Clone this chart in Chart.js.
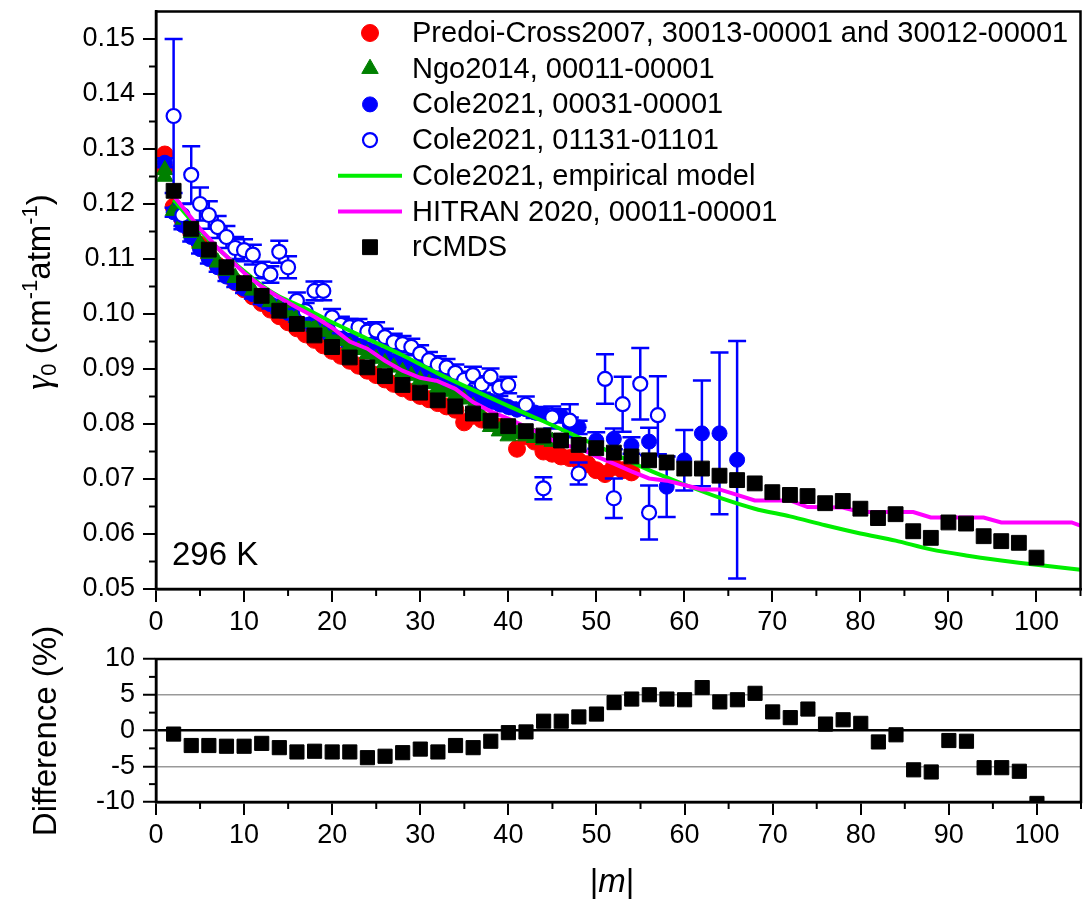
<!DOCTYPE html>
<html><head><meta charset="utf-8">
<script src="https://cdn.jsdelivr.net/npm/chart.js@4.4.1/dist/chart.umd.min.js"></script>
<style>
html,body{margin:0;padding:0;background:#fff;}
#wrap{position:relative;width:1092px;height:918px;background:#fff;}
.box{position:absolute;left:0;width:1092px;}
</style></head><body>
<div id="wrap">
<div class="box" style="top:0;height:640px"><canvas id="c1" width="1092" height="640"></canvas></div>
<div class="box" style="top:600px;height:318px"><canvas id="c2" width="1092" height="318"></canvas></div>
</div>
<script>
// ---------------- DATA ----------------
const xTicks = [0,10,20,30,40,50,60,70,80,90,100];
const yTicksTop = [0.05,0.06,0.07,0.08,0.09,0.10,0.11,0.12,0.13,0.14,0.15];
const yTicksDiff = [-10,-5,0,5,10];

const predoiM = [1,1,2,3,4,5,6,7,8,9,10,11,12,13,14,15,16,17,18,19,20,21,22,23,24,25,26,27,28,29,30,31,32,33,34,35,36,37,38,39,40,41,42,43,44,45,46,47,48,49,50,51,52,53,54];
const predoiG = [0.1290,0.1265,0.1195,0.1172,0.1148,0.1126,0.1106,0.1088,0.1072,0.1058,0.1045,0.1032,0.1020,0.1008,0.0996,0.0985,0.0974,0.0963,0.0953,0.0943,0.0933,0.0924,0.0915,0.0906,0.0897,0.0889,0.0881,0.0873,0.0865,0.0858,0.0851,0.0845,0.0838,0.0832,0.0826,0.0803,0.0815,0.0808,0.0802,0.0795,0.0788,0.0755,0.0778,0.0768,0.0750,0.0746,0.0741,0.0738,0.0733,0.0727,0.0716,0.0709,0.0722,0.0716,0.0712];

const ngoM = [1,1,2,3,4,5,6,7,8,9,10,11,12,13,14,15,16,17,18,19,20,21,22,23,24,25,26,27,28,29,30,31,32,33,34,35,36,37,38,39,40,41,42,43,44,45];
const ngoG = [0.1262,0.1250,0.1188,0.1168,0.1148,0.1128,0.1110,0.1094,0.1079,0.1066,0.1054,0.1043,0.1032,0.1022,0.1012,0.1003,0.0994,0.0985,0.0976,0.0968,0.0959,0.0951,0.0943,0.0935,0.0927,0.0919,0.0911,0.0903,0.0895,0.0888,0.0880,0.0873,0.0866,0.0859,0.0852,0.0845,0.0832,0.0815,0.0795,0.0787,0.0778,0.0782,0.0778,0.0775,0.0771,0.0768];

const cole1M = [1,2,3,4,5,6,7,8,9,10,11,12,13,14,15,16,17,18,19,20,21,22,23,24,25,26,27,28,29,30,31,32,33,34,35,36,37,38,39,40,41,42,43,44,46,47,48,50,52,54,56,58,60,62,64,66];
const cole1G = [0.1275,0.1185,0.1162,0.1140,0.1118,0.1100,0.1085,0.1068,0.1057,0.1046,0.1036,0.1026,0.1018,0.1010,0.1002,0.0994,0.0987,0.0978,0.0970,0.0963,0.0956,0.0949,0.0942,0.0936,0.0929,0.0922,0.0914,0.0907,0.0901,0.0894,0.0887,0.0880,0.0874,0.0867,0.0861,0.0854,0.0848,0.0842,0.0836,0.0831,0.0826,0.0827,0.0821,0.0818,0.0815,0.0800,0.0794,0.0770,0.0773,0.0761,0.0768,0.0686,0.0734,0.0783,0.0783,0.0735];
const cole1Err = [0.0008,0.0008,0.0008,0.0008,0.0008,0.0008,0.0008,0.0008,0.0008,0.0008,0.0008,0.0008,0.0008,0.0008,0.0008,0.0008,0.0008,0.0008,0.0008,0.0008,0.0008,0.0008,0.0008,0.0008,0.0008,0.0008,0.0008,0.0008,0.0008,0.0008,0.0008,0.0008,0.0008,0.0008,0.0008,0.0008,0.0008,0.0008,0.0008,0.0008,0.0008,0.0010,0.0010,0.0010,0.0012,0.0012,0.0012,0.0015,0.0019,0.0015,0.0025,0.0055,0.0055,0.0096,0.0147,0.0216];

const cole2M = [2,3,4,5,6,7,8,9,10,11,12,13,14,15,16,17,18,19,20,21,22,23,24,25,26,27,28,29,30,31,32,33,34,35,36,37,38,39,40,42,44,45,47,48,51,52,53,55,56,57];
const cole2G = [0.1360,0.1180,0.1253,0.1200,0.1180,0.1158,0.1140,0.1120,0.1116,0.1108,0.1080,0.1072,0.1113,0.1085,0.1024,0.1005,0.1042,0.1042,0.0994,0.0980,0.0976,0.0976,0.0968,0.0970,0.0958,0.0949,0.0945,0.0940,0.0928,0.0916,0.0908,0.0903,0.0893,0.0880,0.0889,0.0872,0.0886,0.0866,0.0871,0.0835,0.0683,0.0812,0.0806,0.0710,0.0882,0.0665,0.0836,0.0873,0.0639,0.0816];
const cole2Err = [0.0140,0.0020,0.0052,0.0030,0.0025,0.0020,0.0020,0.0020,0.0020,0.0018,0.0015,0.0015,0.0020,0.0020,0.0015,0.0015,0.0017,0.0017,0.0015,0.0015,0.0015,0.0015,0.0015,0.0015,0.0015,0.0015,0.0015,0.0015,0.0015,0.0015,0.0015,0.0015,0.0015,0.0015,0.0015,0.0015,0.0015,0.0015,0.0015,0.0015,0.0020,0.0020,0.0030,0.0020,0.0045,0.0036,0.0050,0.0065,0.0049,0.0071];

const modelM = [2,4,6,8,10,12,14,17,20,24,28,32,36,40,44,48,52,56,60,64,68,72,76,80,84,88,92,96,100,105];
const modelG = [0.1208,0.1170,0.1135,0.1105,0.1078,0.1052,0.1032,0.1010,0.0985,0.0955,0.0925,0.0892,0.0862,0.0833,0.0805,0.0776,0.0746,0.0716,0.0690,0.0666,0.0646,0.0632,0.0616,0.0601,0.0588,0.0572,0.0561,0.0552,0.0544,0.0535];

const hitranM = [2,3,4,5,6,7,8,9,10,11,12,13,14,16,18,20,22,24,26,28,30,32,34,36,38,40,42,44,46,48,50,52,54,56,58,60,62,64,66,68,72,74,78,80,86,88,94,96,104,105];
const hitranG = [0.1215,0.1195,0.1175,0.1155,0.1138,0.1120,0.1105,0.1090,0.1075,0.1062,0.1050,0.1040,0.1030,0.1012,0.0995,0.0975,0.0950,0.0937,0.0915,0.0897,0.0884,0.0878,0.0864,0.0840,0.0823,0.0810,0.0795,0.0780,0.0762,0.0757,0.0741,0.0728,0.0714,0.0701,0.0697,0.0689,0.0681,0.0681,0.0671,0.0661,0.0661,0.0649,0.0648,0.0640,0.0640,0.0630,0.0630,0.0621,0.0621,0.0615];

const rcmdsM = [2,4,6,8,10,12,14,16,18,20,22,24,26,28,30,32,34,36,38,40,42,44,46,48,50,52,54,56,58,60,62,64,66,68,70,72,74,76,78,80,82,84,86,88,90,92,94,96,98,100];
const rcmdsG = [0.1224,0.1155,0.1117,0.1085,0.1056,0.1033,0.1006,0.0982,0.0961,0.0940,0.0921,0.0903,0.0887,0.0871,0.0857,0.0843,0.0832,0.0819,0.0806,0.0796,0.0787,0.0779,0.0770,0.0762,0.0756,0.0748,0.0741,0.0734,0.0730,0.0719,0.0719,0.0706,0.0698,0.0692,0.0676,0.0671,0.0669,0.0656,0.0660,0.0646,0.0629,0.0636,0.0605,0.0593,0.0621,0.0619,0.0596,0.0587,0.0584,0.0557];
const diffPct = [-0.5,-2.1,-2.1,-2.2,-2.2,-1.8,-2.4,-3.0,-2.9,-3.0,-3.0,-3.8,-3.6,-3.1,-2.6,-3.0,-2.1,-2.4,-1.5,-0.3,-0.2,1.3,1.3,1.9,2.3,3.9,4.4,5.0,4.4,4.3,6.0,4.0,4.3,5.2,2.6,1.8,3.0,0.9,1.5,1.0,-1.6,-0.6,-5.5,-5.8,-1.4,-1.5,-5.2,-5.2,-5.7,-10.2];

const legendLabels = ['Predoi-Cross2007, 30013-00001 and 30012-00001','Ngo2014, 00011-00001','Cole2021, 00031-00001','Cole2021, 01131-01101','Cole2021, empirical model','HITRAN 2020, 00011-00001','rCMDS'];

// ---------------- HELPERS ----------------
const FONT = '"Liberation Sans", Arial, Helvetica, sans-serif';
const pts = (xs, ys) => xs.map((x, i) => ({x: x, y: ys[i]}));

const errorBars = {
  id: 'errorBars',
  beforeDatasetDraw(chart, args) {
    const ds = chart.data.datasets[args.index];
    if (!ds.errors) return;
    const {ctx, chartArea: a, scales: {x, y}} = chart;
    ctx.save();
    ctx.beginPath(); ctx.rect(a.left, a.top, a.right - a.left, a.bottom - a.top); ctx.clip();
    ctx.strokeStyle = ds.borderColor; ctx.lineWidth = 2.5;
    const cap = 9;
    ds.data.forEach((p, i) => {
      const e = ds.errors[i]; if (!e) return;
      const px = x.getPixelForValue(p.x), y1 = y.getPixelForValue(p.y + e), y2 = y.getPixelForValue(p.y - e);
      ctx.beginPath();
      ctx.moveTo(px, y1); ctx.lineTo(px, y2);
      ctx.moveTo(px - cap, y1); ctx.lineTo(px + cap, y1);
      ctx.moveTo(px - cap, y2); ctx.lineTo(px + cap, y2);
      ctx.stroke();
    });
    ctx.restore();
  }
};

const frameAndMinor = {
  id: 'frameAndMinor',
  afterDraw(chart, args, opts) {
    const {ctx, chartArea: a, scales: {x, y}} = chart;
    ctx.save();
    ctx.strokeStyle = '#000'; ctx.lineWidth = 2;
    for (let v = opts.xMinor; v <= x.max + 1e-9; v += opts.xMinor * 2) {
      const px = x.getPixelForValue(v);
      ctx.beginPath(); ctx.moveTo(px, a.bottom); ctx.lineTo(px, a.bottom + 7); ctx.stroke();
    }
    for (let v = y.min + opts.yMinor; v < y.max - 1e-9; v += opts.yMinor * 2) {
      const py = y.getPixelForValue(v);
      ctx.beginPath(); ctx.moveTo(a.left, py); ctx.lineTo(a.left - 7, py); ctx.stroke();
    }
    ctx.lineWidth = 2.5;
    ctx.strokeRect(a.left, a.top, a.right - a.left, a.bottom - a.top);
    ctx.restore();
  }
};

function richRotated(ctx, cx, cy, parts) {
  ctx.save();
  ctx.translate(cx, cy); ctx.rotate(-Math.PI / 2);
  let total = 0;
  parts.forEach(p => { ctx.font = p.font; p.w = ctx.measureText(p.t).width; total += p.w; });
  let xx = -total / 2;
  ctx.textBaseline = 'alphabetic'; ctx.textAlign = 'left'; ctx.fillStyle = '#000';
  parts.forEach(p => { ctx.font = p.font; ctx.fillText(p.t, xx, p.dy || 0); xx += p.w; });
  ctx.restore();
}

const topDecor = {
  id: 'topDecor',
  afterDraw(chart) {
    const ctx = chart.ctx;
    const dsets = chart.data.datasets;
    ctx.save();
    const x0 = 370, tx = 412, ly0 = 33, step = 35.7;
    legendLabels.forEach((lab, i) => {
      const ds = dsets[i];
      const yy = ly0 + i * step;
      if (ds.showLine) {
        ctx.strokeStyle = ds.borderColor; ctx.lineWidth = ds.borderWidth;
        ctx.beginPath(); ctx.moveTo(338, yy); ctx.lineTo(402, yy); ctx.stroke();
      } else {
        ctx.fillStyle = ds.backgroundColor; ctx.strokeStyle = ds.borderColor; ctx.lineWidth = ds.borderWidth;
        Chart.helpers.drawPoint(ctx, {pointStyle: ds.pointStyle, radius: ds.pointRadius, borderWidth: ds.borderWidth, rotation: 0}, x0, yy);
      }
      ctx.fillStyle = '#000'; ctx.font = '29px ' + FONT; ctx.textBaseline = 'middle'; ctx.textAlign = 'left';
      ctx.fillText(lab, tx, yy + 1);
    });
    ctx.font = '33px ' + FONT; ctx.textBaseline = 'alphabetic'; ctx.fillStyle = '#000';
    ctx.fillText('296 K', 172, 565);
    ctx.restore();
    richRotated(ctx, 50, 292, [
      {t: 'γ', font: 'italic 36px "Liberation Serif", "DejaVu Serif", serif'},
      {t: '0', font: '22px ' + FONT, dy: 6},
      {t: ' (cm', font: '33px ' + FONT},
      {t: '-1', font: '22px ' + FONT, dy: -13},
      {t: 'atm', font: '33px ' + FONT},
      {t: '-1', font: '22px ' + FONT, dy: -13},
      {t: ')', font: '33px ' + FONT}
    ]);
  }
};

const bottomDecor = {
  id: 'bottomDecor',
  afterDraw(chart) {
    const ctx = chart.ctx;
    richRotated(ctx, 56, 131, [{t: 'Difference (%)', font: '33px ' + FONT}]);
    ctx.save();
    ctx.fillStyle = '#000'; ctx.textBaseline = 'alphabetic';
    ctx.font = '33px ' + FONT;
    const w1 = ctx.measureText('|').width;
    ctx.font = 'italic 33px ' + FONT;
    const w2 = ctx.measureText('m').width;
    const cx = 612; let xx = cx - (2 * w1 + w2) / 2; const by = 292;
    ctx.font = '33px ' + FONT; ctx.fillText('|', xx, by); xx += w1;
    ctx.font = 'italic 33px ' + FONT; ctx.fillText('m', xx, by); xx += w2;
    ctx.font = '33px ' + FONT; ctx.fillText('|', xx, by);
    ctx.restore();
  }
};

function axisCommon() {
  return {
    border: {display: true, color: '#000', width: 2.5},
    grid: {drawOnChartArea: false, drawTicks: true, tickLength: 13, color: '#000', tickColor: '#000', lineWidth: 2, tickWidth: 2},
    ticks: {color: '#000', font: {family: FONT, size: 27}, padding: 4, maxRotation: 0, autoSkip: false}
  };
}
function fitX(h) { return s => { s.height = h; s.paddingLeft = 0; s.paddingRight = 0; }; }
function fitY(w) { return s => { s.width = w; s.paddingTop = 0; s.paddingBottom = 0; }; }

// ---------------- TOP CHART ----------------
const xTop = axisCommon();
Object.assign(xTop, {type: 'linear', min: 0, max: 105,
  afterBuildTicks: s => { s.ticks = xTicks.map(v => ({value: v})); },
  afterFit: fitX(51)});
xTop.ticks.callback = v => String(v);
const yTop = axisCommon();
Object.assign(yTop, {type: 'linear', min: 0.05, max: 0.155,
  afterBuildTicks: s => { s.ticks = yTicksTop.map(v => ({value: v})); },
  afterFit: fitY(156)});
yTop.ticks.callback = v => v.toFixed(2);
yTop.ticks.padding = 8;

new Chart(document.getElementById('c1'), {
  type: 'scatter',
  data: {datasets: [
    {label: legendLabels[0], data: pts(predoiM, predoiG), pointStyle: 'circle', pointRadius: 8.5, backgroundColor: '#ff0000', borderColor: '#ff0000', borderWidth: 1, order: 6},
    {label: legendLabels[1], data: pts(ngoM, ngoG), pointStyle: 'triangle', pointRadius: 9.5, backgroundColor: '#008000', borderColor: '#008000', borderWidth: 1, order: 4},
    {label: legendLabels[2], data: pts(cole1M, cole1G), errors: cole1Err, pointStyle: 'circle', pointRadius: 7.5, backgroundColor: '#0000ff', borderColor: '#0000ff', borderWidth: 1, order: 5},
    {label: legendLabels[3], data: pts(cole2M, cole2G), errors: cole2Err, pointStyle: 'circle', pointRadius: 7, backgroundColor: '#ffffff', borderColor: '#0000ff', borderWidth: 2.2, order: 3},
    {label: legendLabels[4], data: pts(modelM, modelG), showLine: true, pointRadius: 0, borderColor: '#00ee00', backgroundColor: '#00ee00', borderWidth: 4, tension: 0.3, order: 2},
    {label: legendLabels[5], data: pts(hitranM, hitranG), showLine: true, pointRadius: 0, borderColor: '#ff00ff', backgroundColor: '#ff00ff', borderWidth: 4, order: 1},
    {label: legendLabels[6], data: pts(rcmdsM, rcmdsG), pointStyle: 'rect', pointRadius: 10.5, backgroundColor: '#000000', borderColor: '#000000', borderWidth: 1, order: 0}
  ]},
  options: {
    responsive: false, animation: false,
    layout: {padding: {top: 4, right: 5, left: 0, bottom: 0}},
    plugins: {legend: {display: false}, tooltip: {enabled: false}, frameAndMinor: {xMinor: 5, yMinor: 0.005}},
    elements: {point: {hoverRadius: 0}},
    scales: {x: xTop, y: yTop}
  },
  plugins: [errorBars, frameAndMinor, topDecor]
});

// ---------------- BOTTOM CHART ----------------
const xBot = axisCommon();
Object.assign(xBot, {type: 'linear', min: 0, max: 105,
  afterBuildTicks: s => { s.ticks = xTicks.map(v => ({value: v})); },
  afterFit: fitX(116)});
xBot.ticks.callback = v => String(v);
const yBot = axisCommon();
Object.assign(yBot, {type: 'linear', min: -10, max: 10,
  afterBuildTicks: s => { s.ticks = yTicksDiff.map(v => ({value: v})); },
  afterFit: fitY(156)});
yBot.ticks.callback = v => String(v);
yBot.ticks.padding = 8;
yBot.grid = Object.assign({}, yBot.grid, {
  drawOnChartArea: true,
  color: c => (c.tick && c.tick.value === 0) ? '#000' : ((c.tick && Math.abs(c.tick.value) === 5) ? '#999999' : 'rgba(0,0,0,0)'),
  lineWidth: c => (c.tick && c.tick.value === 0) ? 2.5 : 1.5,
  tickColor: '#000', tickWidth: 2
});

new Chart(document.getElementById('c2'), {
  type: 'scatter',
  data: {datasets: [
    {label: 'Difference', data: pts(rcmdsM, diffPct), pointStyle: 'rect', pointRadius: 10, backgroundColor: '#000000', borderColor: '#000000', borderWidth: 1}
  ]},
  options: {
    responsive: false, animation: false,
    layout: {padding: {top: 59, right: 5, left: 0, bottom: 0}},
    plugins: {legend: {display: false}, tooltip: {enabled: false}, frameAndMinor: {xMinor: 5, yMinor: 2.5}},
    scales: {x: xBot, y: yBot}
  },
  plugins: [frameAndMinor, bottomDecor]
});
</script>
</body></html>
